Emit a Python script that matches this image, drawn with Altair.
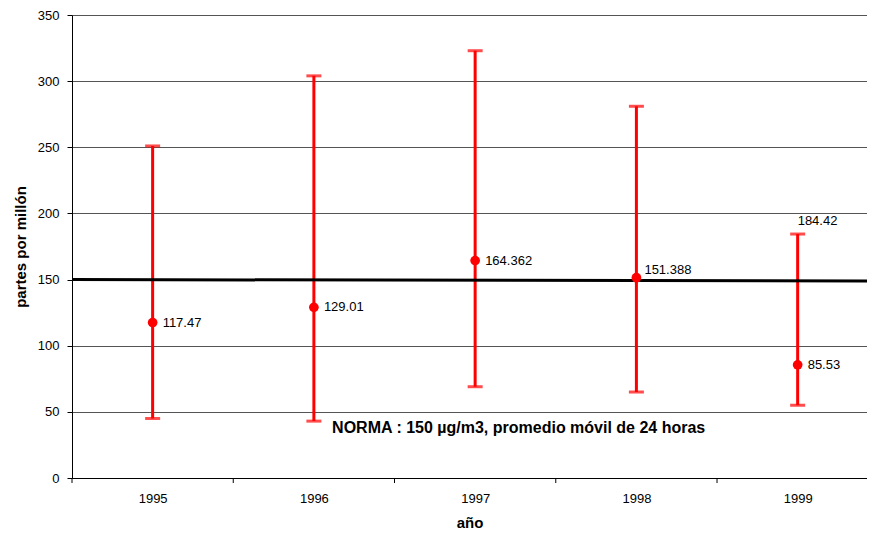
import altair as alt
import pandas as pd

years = [1995, 1996, 1997, 1998, 1999]
means = [117.47, 129.01, 164.362, 151.388, 85.53]
highs = [251, 304, 323, 281, 184.42]
lows = [45, 43, 69, 65, 55]
mean_labels = ["117.47", "129.01", "164.362", "151.388", "85.53"]
top_label_year = [1999]
top_label_value = [184.42]
top_label_text = ["184.42"]
boundaries = [1994.5, 1995.5, 1996.5, 1997.5, 1998.5]
norma_start, norma_end = 150, 149
note_text = "NORMA : 150 µg/m3, promedio móvil de 24 horas"
note_x, note_y = 1997.27, 38

W, H = 795, 463
FONT = "Liberation Sans"

df = pd.DataFrame({"year": years, "mean": means, "high": highs, "low": lows, "label": mean_labels})
top_df = pd.DataFrame({"year": top_label_year, "value": top_label_value, "label": top_label_text})
bnd_df = pd.DataFrame({"b": boundaries})

xscale = alt.Scale(domain=[1994.5, 1999.43], nice=False, zero=False)
yscale = alt.Scale(domain=[0, 350], nice=False)

xaxis = alt.Axis(values=years, format="d", ticks=False, grid=False, labelPadding=14,
                 title="año", titlePadding=10, labelFontSize=13, titleFontSize=15,
                 labelFont=FONT, titleFont=FONT, titleFontWeight="bold",
                 domainColor="#000", labelColor="#000", titleColor="#000", labelFlush=False)
yaxis = alt.Axis(values=[0, 50, 100, 150, 200, 250, 300, 350], grid=True, gridColor="#555",
                 gridWidth=1, tickSize=5, tickColor="#000", domainColor="#000",
                 labelFontSize=13, labelFont=FONT, labelColor="#000", labelPadding=8,
                 title="partes por millón", titleFontSize=15, titleFont=FONT,
                 titleFontWeight="bold", titleColor="#000", titlePadding=9)

base = alt.Chart(df)

bars = base.mark_rule(color="#FF0000", strokeWidth=3).encode(
    x=alt.X("year:Q", scale=xscale, axis=xaxis),
    y=alt.Y("low:Q", scale=yscale, axis=yaxis),
    y2="high:Q",
)
caps_hi = base.mark_tick(color="#FF0000", orient="horizontal", thickness=3, size=15).encode(
    x=alt.X("year:Q"), y=alt.Y("high:Q"))
caps_lo = base.mark_tick(color="#FF0000", orient="horizontal", thickness=3, size=15).encode(
    x=alt.X("year:Q"), y=alt.Y("low:Q"))

norma = alt.Chart(pd.DataFrame({"a": [0]})).mark_rule(color="#000", strokeWidth=3).encode(
    x=alt.value(0), x2=alt.value(W), y=alt.datum(norma_start), y2=alt.datum(norma_end))

points = base.mark_circle(color="#FF0000", opacity=1, size=95).encode(
    x="year:Q", y="mean:Q")
labels = base.transform_filter("abs(datum.mean - 150) > 5").mark_text(
    align="left", baseline="middle", dx=10, fontSize=13, font=FONT, color="#000"
).encode(x="year:Q", y="mean:Q", text="label:N")
labels_near = base.transform_filter("abs(datum.mean - 150) <= 5").mark_text(
    align="left", baseline="middle", dx=8, dy=-8, fontSize=13, font=FONT, color="#000"
).encode(x="year:Q", y="mean:Q", text="label:N")
top_labels = alt.Chart(top_df).mark_text(align="left", baseline="bottom", dx=0, dy=-6,
                                         fontSize=13, font=FONT, color="#000").encode(
    x="year:Q", y="value:Q", text="label:N")

ticks = alt.Chart(bnd_df).mark_rule(color="#000", strokeWidth=1).encode(
    x="b:Q", y=alt.value(H), y2=alt.value(H + 5))

note = alt.Chart(pd.DataFrame({"a": [0]})).mark_text(
    align="center", baseline="middle", fontSize=16, fontWeight="bold", font=FONT, color="#000"
).encode(x=alt.datum(note_x), y=alt.datum(note_y), text=alt.value(note_text))

chart = alt.layer(bars, caps_hi, caps_lo, norma, points, labels, labels_near, top_labels,
                  ticks, note).properties(
    width=W, height=H,
    autosize=alt.AutoSizeParams(type="none"),
    padding={"left": 64, "top": 7, "right": 0, "bottom": 52},
).configure_view(stroke=None).configure(background="white")

chart.save("out.html", embed_options={"renderer": "svg", "actions": False})
